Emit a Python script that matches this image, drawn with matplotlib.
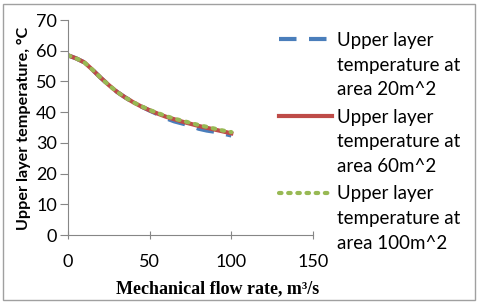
import numpy as np
import matplotlib.pyplot as plt
from matplotlib.patches import Rectangle
from matplotlib.legend_handler import HandlerLine2D

flow = [0, 5, 10, 15, 20, 25, 30, 35, 40, 45, 50, 55, 60, 65, 70, 75, 80, 85, 90, 95, 100]

temp_20 = [58.5, 57.5, 56.2, 53.8, 51.2, 48.8, 46.6, 44.8, 43.2, 41.8, 40.5,
           39.3, 38.0, 37.0, 36.3, 35.6, 34.6, 34.0, 33.6, 33.0, 32.4]
temp_60 = [58.5, 57.5, 56.2, 53.8, 51.2, 48.8, 46.6, 44.8, 43.2, 41.8, 40.6,
           39.5, 38.5, 37.7, 36.9, 36.2, 35.5, 34.9, 34.3, 33.7, 33.1]
temp_100 = [58.5, 57.5, 56.2, 53.8, 51.2, 48.8, 46.6, 44.8, 43.2, 41.9, 40.7,
            39.7, 38.7, 37.9, 37.2, 36.5, 35.8, 35.2, 34.6, 34.0, 33.5]

labels = ['Upper layer\ntemperature at\narea 20m^2',
          'Upper layer\ntemperature at\narea 60m^2',
          'Upper layer\ntemperature at\narea 100m^2']

LEG_FS = 13.5
LINE_SP = 1.55


class TopLineHandler(HandlerLine2D):
    # put the legend line level with the first line of a 3-line label
    def create_artists(self, legend, orig_handle, xdescent, ydescent,
                       width, height, fontsize, trans):
        arts = super().create_artists(legend, orig_handle, xdescent, ydescent,
                                      width, height, fontsize, trans)
        for a in arts:
            a.set_ydata(np.asarray(a.get_ydata()) + 1.4 * fontsize)
        return arts


plt.rcParams['font.family'] = ['Lato', 'DejaVu Sans']

fig = plt.figure(figsize=(4.8, 3.06), dpi=100)
ax = fig.add_axes([68 / 480, 1 - 235 / 306, (313 - 68) / 480, (235 - 20) / 306])

ax.plot(flow, temp_20, color='#4a7ebb', lw=3, ls=(0, (4.2, 3)), label=labels[0])
ax.plot(flow, temp_60, color='#be4b48', lw=3, label=labels[1])
ax.plot(flow, temp_100, color='#98b954', lw=3, ls=(0, (0.6, 1.6)),
        dash_capstyle='round', label=labels[2])

ax.set_xlim(0, 150)
ax.set_ylim(0, 70)
ax.set_xticks([0, 50, 100, 150])
ax.set_yticks(range(0, 71, 10))
for s in ['top', 'right']:
    ax.spines[s].set_visible(False)
for s in ['left', 'bottom']:
    ax.spines[s].set_color('#868686')
ax.tick_params(length=6, color='#868686', labelsize=13, labelcolor='black')
ax.tick_params(axis='x', direction='inout', pad=11)
ax.tick_params(axis='y', direction='out', pad=2)

fig.text(24 / 480, 1 - 128 / 306, 'Upper layer temperature, °C', rotation=90,
         ha='center', va='center', fontsize=11.6, fontweight='bold')
fig.text(218 / 480, 1 - 289 / 306, 'Mechanical flow rate, m\u00b3/s',
         ha='center', va='center', fontsize=13, fontweight='bold',
         family='Liberation Serif')

leg = fig.legend(loc='upper left', bbox_to_anchor=(279 / 480, 1 - 32 / 306),
                 frameon=False, fontsize=LEG_FS, handlelength=2.8,
                 handletextpad=0.3, labelspacing=0.55, borderpad=0,
                 borderaxespad=0, handler_map={plt.Line2D: TopLineHandler()})
for t in leg.get_texts():
    t.set_linespacing(LINE_SP)

fig.patches.append(Rectangle((3 / 480, 1 - 300 / 306), 472 / 480, 296 / 306,
                             transform=fig.transFigure, fill=False,
                             edgecolor='#a0a0a0', lw=1))

fig.savefig('out.png', dpi=100)
